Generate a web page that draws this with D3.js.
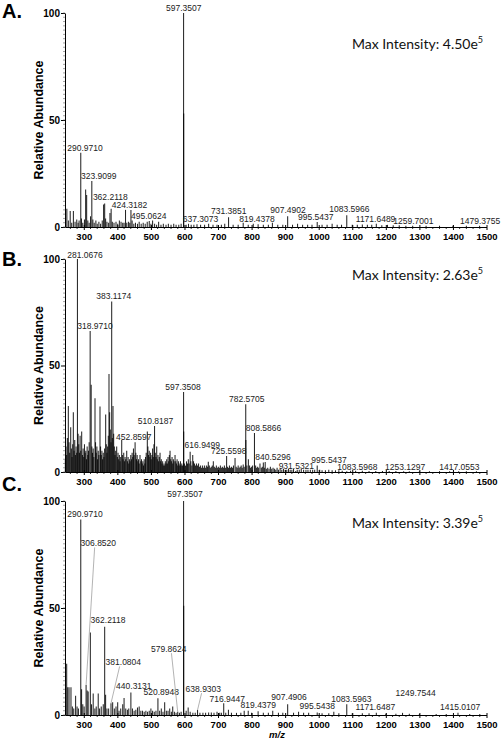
<!DOCTYPE html>
<html><head><meta charset="utf-8">
<script src="https://cdn.jsdelivr.net/npm/d3@7"></script>
<style>body{margin:0;background:#fff}svg{display:block}</style>
</head><body>
<svg id="chart" width="503" height="741"></svg>
<script>
// ---------------- DATA ----------------
const panelNames = ["A.", "B.", "C."];
const maxIntensityMantissa = ["4.50", "2.63", "3.39"];
const maxIntensityExponent = ["5", "5", "5"];
const xTickValues = [300, 400, 500, 600, 700, 800, 900, 1000, 1100, 1200, 1300, 1400, 1500];
const yTickValues = [0, 50, 100];
const xAxisTitle = "m/z";
const yAxisTitle = "Relative Abundance";

// peaks: [m/z, relative abundance]
const peaksA = [
  [249.5,8.5],[254,3],[259.5,7.5],[264,2],[269,7.5],[274,2.5],[279,3.5],[283,2],[286,3],[290.97,34.7],
  [293,4],[297,2],[302,3.5],[305.5,17.5],[308.5,15],[312,3],[316,2],[320,5],[323.91,21.5],[327,3.5],
  [331,2],[336,3],[340,1.5],[345,2.5],[350,1.5],[355,3],[359,10.5],[362.21,11],[365,4],[369,2.5],
  [374,2],[378,6.5],[381.5,8.5],[385,2.5],[390,2],[396,2.5],[401,1.5],[406,3],[411,2.5],[416,2],
  [420,2],[424.32,8],[428,2],[433,2.5],[437,2],[440.5,8],[444,3],[449,1.5],[454,2],[460,1.5],
  [465,2.5],[471,1.5],[477,2],[483,1.5],[489,2.5],[495.06,2.8],[500,1.5],[505,3],[511,1.5],[517,1],
  [523,2.5],[530,1],[537,1.5],[545,1],[552,1.5],[560,1],[568,1.5],[575,1],[583,1],[590,1.5],
  [597.35,100],[597.7,53],[605,1],[612,1.5],[620,1],[628,1],[637.31,1.3],[648,1],[660,1],[672,1.5],
  [685,1],[697,1],[710,1],[720,1.5],[731.39,4.5],[745,1],[760,1],[775,2],[790,1],[805,1.5],
  [819.44,1.3],[835,1],[850,1],[862,2],[878,1],[893,1],[907.49,5],[922,1],[937,1.5],[952,1],
  [967,1],[980,1],[995.54,2.3],[1010,1],[1025,1],[1040,1.5],[1055,1],[1068,1],[1083.6,5.5],[1100,1],
  [1115,1],[1130,1.2],[1145,1],[1158,1],[1171.65,1.5],[1188,0.8],[1205,1],[1222,0.8],[1240,0.8],[1259.7,0.6],
  [1280,0.6],[1320,0.6],[1360,0.6],[1400,0.6],[1440,0.6],[1479.38,0.6]
];
const peaksB = [
  [245,6],[247,12],[249,8],[251,16],[253.9,31],[256,14],[258,9],[261,21],[263,11],[265,7],
  [267,13],[268.8,28],[271,10],[273,15],[275,8],[277,12],[279,9],[281.07,100],[283,18],[285,13],
  [287,9],[289,17],[291,10],[293.7,19],[296,8],[298,11],[300,7],[302,13],[304,9],[306,10],
  [308,6],[310,12],[312,8],[314,10],[316,14],[318.97,66.2],[322,41],[324,12],[326,9],[328,11],
  [330,7],[333.4,34.6],[335,14],[337,9],[339,12],[341,6],[343,10],[345,8],[348.3,30.7],[350,12],
  [352,8],[354,10],[356,6],[358,9],[360,7],[362,11],[365.2,27],[367,13],[369,9],[371,12],
  [373,17],[375.1,46],[377,28],[379,20],[381,14],[383.12,80],[385,16],[387,31],[389,18],[391,12],
  [393,8],[395,10],[398,12],[400,7],[402,9],[404,6],[406,8],[408,5],[410,7],[413,15],
  [415,8],[417,6],[419,9],[421,5],[423,7],[425,6],[427.9,10],[430,5],[432,7],[434,4],
  [436,6],[438,5],[440,8],[442,6],[444,9],[446,7],[448,11],[450,8],[452.86,14],[455,9],
  [457,6],[459,8],[461,5],[463,6],[465,4],[467.5,8],[470,5],[472,6],[474,4],[476,5],
  [478,3],[480,6],[482,4],[484,7],[486,9],[489.3,19],[491,12],[493,8],[495,10],[497,7],
  [499,9],[501,6],[503,8],[505,11],[507,7],[509,13],[510.82,21.6],[513,9],[515,7],[517.3,12],
  [519,6],[521,8],[523,5],[525,7],[527.2,9],[529,5],[531,6],[533,4],[535,5],[537,3],
  [539,4],[541,3],[543,5],[545,4],[547,6],[549,4],[551,7],[553,5],[555,8],[557,10],
  [559,6],[561,5],[563,7],[565,4],[567,6],[569,5],[571.9,8],[574,5],[576,4],[578,6],
  [580,3],[582,5],[584,4],[586,3],[588,5],[590,3],[592,4],[594,3],[597.35,37.6],[597.7,19],
  [600,4],[603,3],[606,5],[609,4],[611.5,6],[614,4],[616.95,9.5],[619,5],[622,3],[624.6,8],
  [627,5],[630,4],[633,3],[636,4],[639,3],[642,4],[645,2.5],[648,3],[651,2],[654,3],
  [657,2],[660,3],[663,2],[666,3],[669,2.5],[671,4.8],[674,3],[677,2],[680,2.5],[683,3],
  [686,5],[689,2.5],[692,2],[695,3],[698,2],[701,2.5],[704,2],[707,3],[710,2],[713,2.5],
  [716,2],[719,3],[722,2],[725.56,7.5],[728,2.5],[731,2],[734,3],[737,2],[740,2.5],[743,2],
  [746,3],[750.7,6.6],[754,2.5],[757,2],[760,3],[763,2],[766,2.5],[769,3],[772,2],[775,3.5],
  [778,2.5],[782.57,31.8],[782.9,15],[786,3],[790.4,6],[794,3],[797,2],[800,2.5],[803,3],[808.59,18.3],
  [812,3],[815,2],[818,2.5],[821,2],[825,4],[829,2],[832,2.5],[835,4.5],[838,2],[840.53,4.7],
  [844,1.5],[848,2],[852,1.5],[856,2.5],[860,1.5],[864,2],[868,1.5],[872,1],[876,2],[880,1],
  [885,1.5],[890,1],[895,1.5],[900,1],[905,1],[910,1.5],[915,1],[920,1],[925,1.5],[931.53,0.5],
  [936,1],[942,1],[948,1.5],[955,1],[962,1],[968,1],[975,1],[982,1],[988,1],[995.54,3],
  [1003,1],[1010,0.8],[1020,0.8],[1030,1],[1040,0.8],[1050,0.8],[1060,0.8],[1070,0.6],[1083.6,0.3],[1095,0.6],
  [1110,0.6],[1130,0.6],[1150,0.5],[1170,0.5],[1190,0.5],[1210,0.5],[1230,0.5],[1253.13,0.3],[1270,0.4],[1300,0.4],
  [1330,0.4],[1360,0.4],[1390,0.4],[1417.06,0.3],[1440,0.4],[1470,0.4]
];
const peaksC = [
  [249,24],[252,13],[256,13],[261.8,13],[266,4],[270,3],[275.6,9],[280,4],[284,3],[290.97,91.4],
  [293.4,12],[297,5],[301,4],[306.85,14],[310,11.5],[313,11],[319.5,38.5],[323,5],[328,10],[333,3],
  [337,4],[343,10],[347,3],[352,4],[358,5],[362.21,41.2],[365,9.5],[369,3],[374,3],[381.08,5.5],
  [386,6],[391,3],[396,4],[401,6],[405,2],[410,3],[416,5],[420,8],[425,3],[430,2.5],
  [434,3],[440.31,10.5],[445,3],[450,2],[455,2.5],[460,3.5],[465,4],[470,2],[475,2],[480,1.5],
  [485,2],[490,1.5],[495,2],[500,3],[505,2],[510,1.5],[515,2],[520.89,7.8],[526,2],[531,3],
  [536,1.5],[541,6],[546,2],[551,2],[556,3],[561,1.5],[565,4],[570,1.5],[575,1],[579.86,1.5],
  [585,1],[590,1.5],[597.35,100],[597.7,51],[605,2],[611,3.5],[617,1.5],[625,1],[632,1],[638.93,2.3],
  [646,1],[655,1],[663,1],[672,1.2],[680,1.2],[688,1],[697,1.5],[705,1],[710,1],[716.94,5.5],
  [723,1],[731,2.5],[740,1],[755,1],[768,1],[778,2],[790,2],[800,1],[819.44,1.8],[835,1],
  [850,1],[863,2],[880,1],[893,1],[907.49,5],[925,1],[940,1.5],[955,1],[970,1],[995.54,1.2],
  [1010,0.8],[1030,0.8],[1045,1.5],[1060,0.8],[1083.6,5],[1100,0.8],[1130,0.8],[1150,0.8],[1171.65,1],[1200,0.6],
  [1230,0.6],[1249.75,1],[1270,0.6],[1300,0.5],[1350,0.5],[1380,0.5],[1415.01,1],[1450,0.5],[1480,0.5]
];

// peak annotations: [label text, label centre m/z, label baseline abundance, leader line to peak]
const labelsA = [
  ["290.9710",303.6,35.7,false],["323.9099",344.4,22.4,false],["362.2118",379.0,12.6,false],
  ["424.3182",436.2,8.7,false],["495.0624",493.5,3.7,false],["597.3507",597.8,100.9,false],
  ["637.3073",647.9,2.2,false],["731.3851",731.9,5.9,false],["819.4378",816.3,2.2,false],
  ["907.4902",908.7,6.4,false],["995.5437",991.2,3.3,false],["1083.5966",1091.4,6.9,false],
  ["1171.6489",1169.5,2.5,false],["1259.7001",1282.1,1.4,false],["1479.3755",1481,1.4,false]
];
const labelsB = [
  ["281.0676",303.6,100.6,false],["318.9710",333.4,67.1,false],["383.1174",389.2,81.1,false],
  ["452.8597",449.1,15.0,false],["510.8187",513.7,22.5,false],["597.3508",595.7,38.5,false],
  ["616.9499",653.2,11.4,false],["725.5598",731.9,8.5,false],["782.5705",785.6,32.7,false],
  ["808.5866",835.7,19.2,false],["840.5296",864.0,5.6,false],["931.5321",933.4,1.3,false],
  ["995.5437",1030.9,4.1,false],["1083.5968",1115.2,0.9,false],["1253.1297",1257.4,0.9,false],
  ["1417.0553",1419.2,0.9,false]
];
const labelsC = [
  ["597.3507",601.7,102.1,false],["290.9710",303.6,92.4,false],["306.8520",343.3,79.0,true],
  ["362.2118",372.2,42.9,false],["381.0804",417.8,23.4,true],["440.3131",449.1,12.0,false],
  ["520.8948",531.0,9.3,false],["579.8624",553.1,29.6,true],["638.9303",656.2,10.9,true],
  ["716.9447",727.5,6.2,false],["819.4379",820.1,3.1,false],["907.4906",911.7,7.0,false],
  ["995.5438",995.7,2.7,false],["1083.5963",1097.1,6.2,false],["1171.6487",1168.9,2.3,false],
  ["1249.7544",1288.7,8.9,false],["1415.0107",1421.3,2.3,false]
];

// ---------------- LAYOUT ----------------
const svg = d3.select("#chart");
const plotLeft = 65, plotRight = 486.5;
const x = d3.scaleLinear().domain([244, 1500]).range([plotLeft, plotRight]);
const panels = [
  {peaks: peaksA, labels: labelsA, top: 13,  bottom: 227, letterY: 18,  maxY: 48.5},
  {peaks: peaksB, labels: labelsB, top: 259, bottom: 472, letterY: 266, maxY: 279.5},
  {peaks: peaksC, labels: labelsC, top: 501, bottom: 715, letterY: 491, maxY: 527.5}
];
const sans = "'Liberation Sans', Arial, sans-serif";

panels.forEach((p, i) => {
  const y = d3.scaleLinear().domain([0, 100]).range([p.bottom, p.top]);
  const g = svg.append("g");

  // peaks
  g.append("g").selectAll("line").data(p.peaks).join("line")
    .attr("x1", d => x(d[0])).attr("x2", d => x(d[0]))
    .attr("y1", y(0)).attr("y2", d => y(d[1]))
    .attr("stroke", "#000").attr("stroke-opacity", 0.85).attr("stroke-width", 1.05);

  // x axis
  const xa = g.append("g").attr("transform", `translate(0,${y(0)})`)
    .call(d3.axisBottom(x).tickValues(xTickValues).tickSize(3).tickSizeOuter(0).tickFormat(d3.format("d")));
  xa.select(".domain").attr("stroke", "#000");
  xa.selectAll(".tick line").attr("y1", -2).attr("stroke", "#000");
  xa.selectAll(".tick text").attr("y", 6).attr("dy", "0.71em")
    .style("font-family", sans).style("font-size", "9.5px").style("font-weight", "bold").attr("fill", "#000");
  xa.selectAll(".minor").data(d3.range(260, 1500, 20).filter(v => v % 100 !== 0)).join("line")
    .attr("class", "minor").attr("x1", d => x(d)).attr("x2", d => x(d))
    .attr("y1", 0).attr("y2", 2).attr("stroke", "#000").attr("stroke-width", 0.8);

  // y axis
  const ya = g.append("g").attr("transform", `translate(${plotLeft},0)`)
    .call(d3.axisLeft(y).tickValues(yTickValues).tickSize(4).tickSizeOuter(0));
  ya.select(".domain").attr("stroke", "#000");
  ya.selectAll(".tick line").attr("stroke", "#000");
  ya.selectAll(".tick text").attr("x", -5)
    .style("font-family", sans).style("font-size", "10px").style("font-weight", "bold").attr("fill", "#000");
  ya.selectAll(".minor").data(d3.range(0, 101, 2)).join("line")
    .attr("class", "minor").attr("x1", -2).attr("x2", 0)
    .attr("y1", d => y(d)).attr("y2", d => y(d)).attr("stroke", "#666").attr("stroke-width", 0.6);

  // y title
  g.append("text").attr("transform", `translate(43,${(p.top + p.bottom) / 2}) rotate(-90)`)
    .attr("text-anchor", "middle").style("font-family", sans).style("font-size", "12.5px")
    .style("font-weight", "bold").text(yAxisTitle);

  // panel letter
  g.append("text").attr("x", 2).attr("y", p.letterY)
    .style("font-family", sans).style("font-size", "20px").style("font-weight", "bold").text(panelNames[i]);

  // max intensity
  const mt = g.append("text").attr("x", 352).attr("y", p.maxY)
    .style("font-family", "Lato, 'Open Sans', sans-serif").style("font-size", "14px").attr("fill", "#111");
  mt.append("tspan").text("Max Intensity: " + maxIntensityMantissa[i] + "e");
  mt.append("tspan").attr("dy", -6).style("font-size", "9px").text(maxIntensityExponent[i]);

  // peak labels
  const lab = g.append("g");
  p.labels.forEach(l => {
    const lx = x(l[1]), ly = y(l[2]);
    if (l[3]) {
      const pm = +l[0];
      const pk = p.peaks.reduce((a, b) => Math.abs(b[0] - pm) < Math.abs(a[0] - pm) ? b : a);
      const px = x(pk[0]), py = y(pk[1]);
      lab.append("line").attr("x1", lx + (px - lx) * 0.3).attr("y1", ly + 1.5)
        .attr("x2", px).attr("y2", py).attr("stroke", "#aaa").attr("stroke-width", 0.9);
    }
    lab.append("text").attr("x", lx).attr("y", ly).attr("text-anchor", "middle")
      .style("font-family", sans).style("font-size", "8.5px").attr("fill", "#222").text(l[0]);
  });

  if (i === 2) {
    g.append("text").attr("x", 277).attr("y", 738).attr("text-anchor", "middle")
      .style("font-family", sans).style("font-size", "9.5px").style("font-weight", "bold")
      .style("font-style", "italic").text(xAxisTitle);
  }
});
</script>
</body></html>
